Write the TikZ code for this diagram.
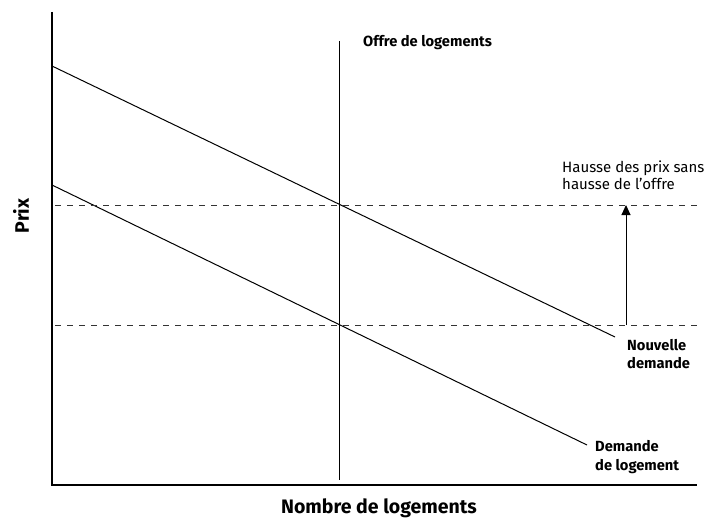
\documentclass[tikz,border=0pt]{standalone}
\usepackage{fontspec}
\setmainfont{Fira Sans}
\usetikzlibrary{arrows.meta}
\begin{document}
\begin{tikzpicture}[x=1pt,y=-1pt,
  axis/.style={line width=2.4pt},
  curve/.style={line width=1pt},
  dash line/.style={line width=0.8pt, dash pattern=on 6pt off 6pt, black!80},
  lbl/.style={font=\bfseries\fontsize{14.7}{18.5}\selectfont, inner sep=0pt, align=left},
  reg/.style={font=\fontsize{15}{17}\selectfont, inner sep=0pt, align=left},
  axlbl/.style={font=\bfseries\fontsize{19.5}{22}\selectfont, inner sep=0pt}]
\useasboundingbox (0,0) rectangle (711,519);
% axes
\coordinate (top) at (52,12);
\coordinate (orig) at (52,485);
\coordinate (xend) at (697,485);
\draw[axis] (top) -- (orig) -- (xend);
% demand curves
\coordinate (d1a) at (52,66);
\coordinate (d1b) at (615,337);
\coordinate (d0a) at (52,185);
\coordinate (d0b) at (587,445);
\draw[curve] (d1a) -- (d1b);
\draw[curve] (d0a) -- (d0b);
% supply
\coordinate (sa) at (339,41);
\coordinate (sb) at (339,480);
\draw[curve] (sa) -- (sb);
% dashed price levels
\coordinate (p1a) at (55,205);
\coordinate (p1b) at (698,205);
\coordinate (p0a) at (55,325);
\coordinate (p0b) at (698,325);
\draw[dash line] (p1a) -- (p1b);
\draw[dash line] (p0a) -- (p0b);
% arrow
\coordinate (arA) at (626,325);
\coordinate (arB) at (626,205);
\draw[curve, -{Triangle[length=10pt,width=9pt]}] (arA) -- (arB);
% labels
\node[lbl, anchor=west] (offre) at (363,43) {Offre de logements};
\node[reg, anchor=west] (hausse) at (562,175) {Hausse des prix sans\\hausse de l’offre};
\node[lbl, anchor=west] (nouv) at (627,354) {Nouvelle\\demande};
\node[lbl, anchor=west] (dem) at (595,457) {Demande\\de logement};
\node[axlbl] (xl) at (379,508) {Nombre de logements};
\node[axlbl, rotate=90] (yl) at (21,216) {Prix};
\end{tikzpicture}
\end{document}
